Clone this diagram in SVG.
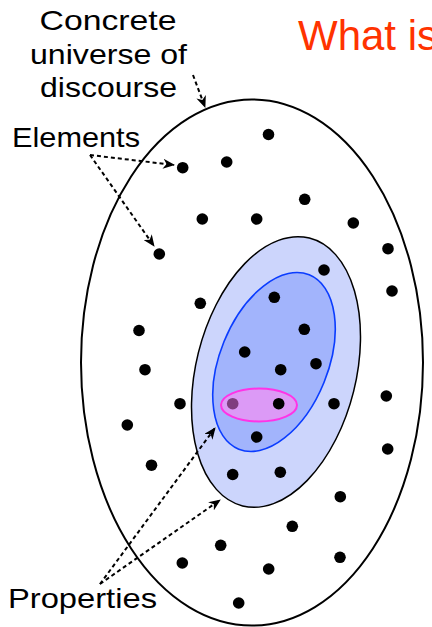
<svg xmlns="http://www.w3.org/2000/svg" width="432" height="627" viewBox="0 0 432 627">
<defs>
<style>
.lbl{font-family:"Liberation Sans","DejaVu Sans",sans-serif;font-size:28px;fill:#000;}
.title{font-family:"Liberation Sans","DejaVu Sans",sans-serif;font-size:42px;fill:#ff3300;}
.dot{fill:#000;}
.conn{fill:none;stroke:#000;stroke-width:2;stroke-dasharray:4 3;marker-end:url(#ah);}
</style>
<marker id="ah" viewBox="0 0 12 10" refX="11" refY="5" markerWidth="12" markerHeight="10" markerUnits="userSpaceOnUse" orient="auto">
<path d="M0,0 L12,5 L0,10 L3.5,5 z" fill="#000"/>
</marker>
</defs>
<rect width="432" height="627" fill="#fff"/>
<g id="title"><text class="title" x="298" y="50">What is</text></g>
<g id="universe">
<ellipse cx="252" cy="362.5" rx="171" ry="263" fill="none" stroke="#000" stroke-width="2"/>
</g>
<g id="property-outer">
<ellipse cx="276" cy="372" rx="80" ry="138" transform="rotate(14 276 372)" fill="#ccd5fc" stroke="#000" stroke-width="1.5"/>
</g>
<g id="property-inner">
<ellipse cx="274" cy="362" rx="54" ry="94" transform="rotate(22 274 362)" fill="#a2b4fc" stroke="#0a3cff" stroke-width="1.6"/>
</g>
<g id="elements">
<circle class="dot" cx="268.5" cy="134.5" r="5.8"/>
<circle class="dot" cx="182.7" cy="167.7" r="5.8"/>
<circle class="dot" cx="226.7" cy="162" r="5.8"/>
<circle class="dot" cx="304.7" cy="199.3" r="5.8"/>
<circle class="dot" cx="202.3" cy="219" r="5.8"/>
<circle class="dot" cx="256.7" cy="219" r="5.8"/>
<circle class="dot" cx="353.3" cy="223" r="5.8"/>
<circle class="dot" cx="159.3" cy="254" r="5.8"/>
<circle class="dot" cx="388" cy="248.7" r="5.8"/>
<circle class="dot" cx="324" cy="270" r="5.8"/>
<circle class="dot" cx="274.3" cy="297.3" r="5.8"/>
<circle class="dot" cx="392" cy="291" r="5.8"/>
<circle class="dot" cx="200.3" cy="303.3" r="5.8"/>
<circle class="dot" cx="139" cy="330.5" r="5.8"/>
<circle class="dot" cx="304.3" cy="329.3" r="5.8"/>
<circle class="dot" cx="244.7" cy="352" r="5.8"/>
<circle class="dot" cx="316" cy="363.7" r="5.8"/>
<circle class="dot" cx="280.7" cy="369.7" r="5.8"/>
<circle class="dot" cx="145" cy="369.7" r="5.8"/>
<circle class="dot" cx="386.3" cy="396" r="5.8"/>
<circle class="dot" cx="180" cy="403.7" r="5.8"/>
<circle class="dot" cx="334" cy="403.7" r="5.8"/>
<circle class="dot" cx="127.3" cy="425" r="5.8"/>
<circle class="dot" cx="387.7" cy="449" r="5.8"/>
<circle class="dot" cx="256.7" cy="437" r="5.8"/>
<circle class="dot" cx="151.5" cy="465.2" r="5.8"/>
<circle class="dot" cx="232.7" cy="474.5" r="5.8"/>
<circle class="dot" cx="280.3" cy="472.2" r="5.8"/>
<circle class="dot" cx="340.3" cy="496.7" r="5.8"/>
<circle class="dot" cx="292.3" cy="526.3" r="5.8"/>
<circle class="dot" cx="220.7" cy="545.3" r="5.8"/>
<circle class="dot" cx="182.3" cy="563" r="5.8"/>
<circle class="dot" cx="268.7" cy="569" r="5.8"/>
<circle class="dot" cx="340" cy="557.3" r="5.8"/>
<circle class="dot" cx="238.7" cy="603" r="5.8"/>
</g>
<g id="property-pink">
<ellipse cx="259" cy="405" rx="38" ry="16.5" fill="#dc9af6" stroke="#ff33e6" stroke-width="2"/>
<circle cx="232.7" cy="403.7" r="5.8" fill="#7f3d7f"/>
<circle class="dot" cx="278.7" cy="403.7" r="5.8"/>
</g>
<g id="connectors">
<path class="conn" d="M193,75 L205,107"/>
<path class="conn" d="M90,155 L174,165"/>
<path class="conn" d="M90,155 L154,246"/>
<path class="conn" d="M100,584 L215,428"/>
<path class="conn" d="M100,584 L220,500"/>
</g>
<g id="label-universe">
<text class="lbl" x="108" y="30" text-anchor="middle" textLength="137" lengthAdjust="spacingAndGlyphs">Concrete</text>
<text class="lbl" x="108.5" y="63.5" text-anchor="middle" textLength="157" lengthAdjust="spacingAndGlyphs">universe of</text>
<text class="lbl" x="108.5" y="97" text-anchor="middle" textLength="137" lengthAdjust="spacingAndGlyphs">discourse</text>
</g>
<g id="label-elements"><text class="lbl" x="12" y="147" textLength="128" lengthAdjust="spacingAndGlyphs">Elements</text></g>
<g id="label-properties"><text class="lbl" x="8" y="608" textLength="149" lengthAdjust="spacingAndGlyphs">Properties</text></g>
</svg>
